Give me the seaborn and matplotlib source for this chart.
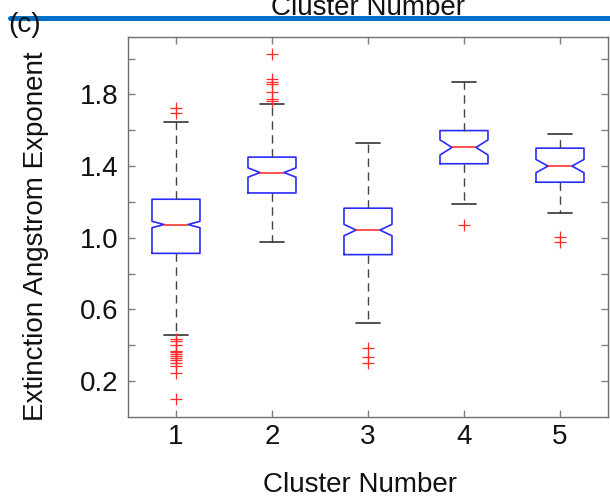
import matplotlib
matplotlib.use("Agg")
import matplotlib.pyplot as plt
import seaborn as sns
from matplotlib.lines import Line2D

# 箱线图的汇总数值
clusters = ["1", "2", "3", "4", "5"]
medians = [1.074, 1.364, 1.043, 1.504, 1.400]
q1 = [0.913, 1.250, 0.906, 1.413, 1.310]
q3 = [1.215, 1.450, 1.165, 1.598, 1.500]
whisker_lo = [0.457, 0.975, 0.522, 1.190, 1.140]
whisker_hi = [1.648, 1.745, 1.530, 1.868, 1.578]
notch_half = [0.018, 0.026, 0.032, 0.042, 0.037]
outliers = [
    [1.726, 1.694, 0.433, 0.423, 0.401, 0.371, 0.360, 0.349, 0.340,
     0.331, 0.316, 0.303, 0.284, 0.247, 0.102],
    [2.025, 1.884, 1.869, 1.857, 1.813, 1.776, 1.763],
    [0.386, 0.336, 0.303],
    [1.074],
    [1.004, 0.976],
]
y_ticks = [0.2, 0.4, 0.6, 0.8, 1.0, 1.2, 1.4, 1.6, 1.8, 2.0]
y_labels = ["0.2", "", "0.6", "", "1.0", "", "1.4", "", "1.8", ""]

sns.set_theme(style="white")
plt.rcParams['font.family'] = ['Liberation Sans', 'DejaVu Sans']

fig = plt.figure(figsize=(6.1, 4.99), dpi=100)
ax = fig.add_axes([0.2098, 0.1643, 0.7869, 0.7615])

stats = []
for i, name in enumerate(clusters):
    stats.append(dict(
        label=name, med=medians[i], q1=q1[i], q3=q3[i],
        whislo=whisker_lo[i], whishi=whisker_hi[i],
        cilo=medians[i] - notch_half[i], cihi=medians[i] + notch_half[i],
        fliers=outliers[i],
    ))

ax.bxp(stats, positions=range(1, 6), widths=0.5, shownotches=True,
       boxprops=dict(color="#2b2bff", linewidth=1.2),
       medianprops=dict(color="#ff2020", linewidth=1.1),
       whiskerprops=dict(color="#444444", linewidth=1.0, linestyle=(0, (6, 4))),
       capprops=dict(color="#333333", linewidth=1.2),
       flierprops=dict(marker="+", markeredgecolor="#ff2a2a", markersize=8,
                       markeredgewidth=0.9, linestyle="none"))

ax.set_xlim(0.5, 5.5)
ax.set_ylim(0.0, 2.12)
ax.set_yticks(y_ticks)
ax.set_yticklabels(y_labels)
ax.set_xticks(range(1, 6))
ax.set_xticklabels(clusters)

for s in ax.spines.values():
    s.set_color("#6e6e6e")
    s.set_linewidth(1.0)
ax.tick_params(direction="in", length=5, width=1, color="#808080",
               top=True, right=True, bottom=True, left=True,
               labelsize=20, labelcolor="#111111")
ax.tick_params(axis="x", pad=5)
ax.tick_params(axis="y", pad=7)

ax.set_xlabel("Cluster Number", fontsize=20, color="#111111", labelpad=16)
ax.set_ylabel("Extinction Angstrom Exponent", fontsize=20, color="#111111", labelpad=22)
ax.xaxis.label.set_x(0.483)
ax.yaxis.label.set_y(0.476)

# 顶部被裁掉的标题和蓝线
fig.text(0.603, 0.970, "Cluster Number", fontsize=20, ha="center",
         va="baseline", color="#111111")
fig.text(0.041, 0.950, "(c)", fontsize=20, ha="center", va="center",
         color="#111111")
fig.add_artist(Line2D([0.016, 1.0], [0.963, 0.963], color="#0070c8",
                      linewidth=3.6, transform=fig.transFigure))

fig.savefig("out.png", dpi=100)
